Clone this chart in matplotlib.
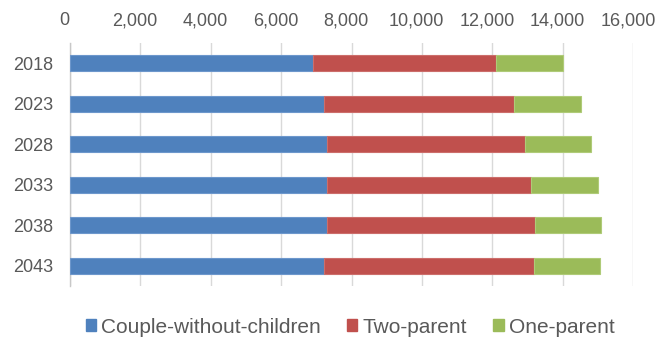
import matplotlib
matplotlib.use("Agg")
import matplotlib.pyplot as plt
from matplotlib.patches import Patch
from matplotlib.ticker import FuncFormatter, MultipleLocator
from matplotlib.transforms import ScaledTranslation

plt.rcParams["font.family"] = ["Liberation Sans", "DejaVu Sans"]

years = ["2018", "2023", "2028", "2033", "2038", "2043"]
couple_without_children = [6900, 7200, 7290, 7290, 7290, 7200]
two_parent = [5200, 5420, 5620, 5810, 5910, 5970]
one_parent = [1900, 1880, 1880, 1890, 1890, 1890]

series_names = ["Couple-without-children", "Two-parent", "One-parent"]
colors = ["#4F81BD", "#C0504D", "#9BBB59"]
edge_colors = ["#6D97CC", "#CC6E6B", "#AFCB78"]
text_color = "#595959"
grid_color = "#D9D9D9"

fig = plt.figure(figsize=(6.58, 3.39), dpi=100)
ax = fig.add_axes([0.1064, 0.156, 0.8561, 0.717])

positions = list(range(len(years)))
left = [0] * len(years)
for values, color, edge in zip([couple_without_children, two_parent, one_parent], colors, edge_colors):
    ax.barh(positions, values, left=left, height=0.4, color=color,
            edgecolor=edge, linewidth=0.8, zorder=3)
    left = [a + b for a, b in zip(left, values)]

ax.set_xlim(0, 16000)
ax.set_ylim(-0.5, len(years) - 0.5)
ax.invert_yaxis()
ax.set_yticks(positions)
ax.set_yticklabels(years)

ax.xaxis.set_major_locator(MultipleLocator(2000))
ax.xaxis.set_major_formatter(FuncFormatter(lambda v, _: f"{int(v):,}"))
ax.xaxis.tick_top()
ax.grid(axis="x", color=grid_color, linewidth=1.0, zorder=0)

ax.tick_params(axis="x", length=0, pad=10, labelsize=13, labelcolor=text_color)
ax.tick_params(axis="y", length=0, pad=12, labelsize=13, labelcolor=text_color)

# shift the value labels slightly left of their gridlines
shift = ScaledTranslation(-5.5 / 100, 0, fig.dpi_scale_trans)
for lbl in ax.get_xticklabels():
    lbl.set_transform(lbl.get_transform() + shift)

for side in ["top", "right", "bottom"]:
    ax.spines[side].set_visible(False)
ax.spines["left"].set_color("#C8C8C8")
ax.spines["left"].set_linewidth(1.0)

handles = [Patch(facecolor=c, edgecolor=c, label=n) for c, n in zip(colors, series_names)]
fig.legend(handles=handles, loc="center", bbox_to_anchor=(0.532, 0.035), ncol=3,
           frameon=False, fontsize=15, handlelength=0.5, handleheight=0.5,
           handletextpad=0.25, columnspacing=1.25, labelcolor=text_color,
           borderaxespad=0, borderpad=0)

fig.savefig("out.png", dpi=100)
